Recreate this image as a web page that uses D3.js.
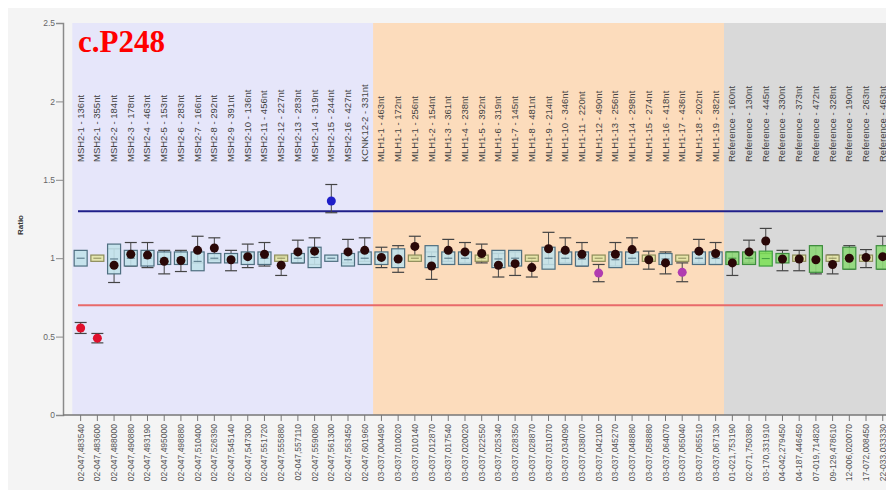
<!DOCTYPE html>
<html>
<head>
<meta charset="utf-8">
<script src="https://cdn.jsdelivr.net/npm/d3@7"></script>
<style>
  body { margin: 0; background: #fff; overflow: hidden; }
  text { font-family: "Liberation Sans", Arial, sans-serif; }
</style>
</head>
<body>
<div id="chart"></div>
<script>
// probe names (top labels)
var probes = [
  "MSH2-1 - 136nt", "MSH2-1 - 355nt", "MSH2-2 - 184nt", "MSH2-3 - 178nt", "MSH2-4 - 463nt",
  "MSH2-5 - 153nt", "MSH2-6 - 283nt", "MSH2-7 - 166nt", "MSH2-8 - 292nt", "MSH2-9 - 391nt",
  "MSH2-10 - 136nt", "MSH2-11 - 456nt", "MSH2-12 - 227nt", "MSH2-13 - 283nt", "MSH2-14 - 319nt",
  "MSH2-15 - 244nt", "MSH2-16 - 427nt", "KCNK12-2 - 331nt",
  "MLH1-1 - 463nt", "MLH1-1 - 172nt", "MLH1-1 - 256nt", "MLH1-2 - 154nt", "MLH1-3 - 361nt",
  "MLH1-4 - 238nt", "MLH1-5 - 392nt", "MLH1-6 - 319nt", "MLH1-7 - 145nt", "MLH1-8 - 481nt",
  "MLH1-9 - 214nt", "MLH1-10 - 346nt", "MLH1-11 - 220nt", "MLH1-12 - 490nt", "MLH1-13 - 256nt",
  "MLH1-14 - 298nt", "MLH1-15 - 274nt", "MLH1-16 - 418nt", "MLH1-17 - 436nt", "MLH1-18 - 202nt",
  "MLH1-19 - 382nt",
  "Reference - 160nt", "Reference - 130nt", "Reference - 445nt", "Reference - 330nt", "Reference - 373nt",
  "Reference - 472nt", "Reference - 328nt", "Reference - 190nt", "Reference - 263nt", "Reference - 463nt"
];

// chromosome positions (bottom labels)
var positions = [
  "02-047,483540", "02-047,483600", "02-047,488000", "02-047,490880", "02-047,493190",
  "02-047,495000", "02-047,498880", "02-047,510400", "02-047,526390", "02-047,545140",
  "02-047,547300", "02-047,551720", "02-047,555880", "02-047,557110", "02-047,559080",
  "02-047,561300", "02-047,563450", "02-047,601960",
  "03-037,004490", "03-037,010020", "03-037,010140", "03-037,012870", "03-037,017540",
  "03-037,020020", "03-037,022550", "03-037,025340", "03-037,028350", "03-037,028870",
  "03-037,031070", "03-037,034090", "03-037,038070", "03-037,042100", "03-037,045270",
  "03-037,048880", "03-037,058880", "03-037,064070", "03-037,065040", "03-037,065510",
  "03-037,067130",
  "01-021,753190", "02-071,750380", "03-170,331910", "04-042,279450", "04-187,446450",
  "07-019,714820", "09-129,478610", "12-006,020070", "17-072,008450", "22-033,033330"
];

// sample ratio and its confidence interval
var ratio = [0.555, 0.49, 0.955, 1.025, 1.02, 0.98, 0.985, 1.05, 1.065, 0.99, 1.01, 1.025, 0.955, 1.04, 1.045, 1.365, 1.04, 1.05,
  1.005, 0.995, 1.075, 0.95, 1.05, 1.04, 1.03, 0.955, 0.965, 0.94, 1.06, 1.05, 1.025, 0.905, 1.025, 1.055, 0.99, 0.97, 0.91, 1.045, 1.03,
  0.97, 1.04, 1.11, 0.995, 0.995, 0.99, 0.96, 1.0, 1.005, 1.01];
var ciLow = [0.52, 0.46, 0.845, 0.95, 0.94, 0.90, 0.915, 0.97, 0.99, 0.92, 0.94, 0.95, 0.89, 0.97, 0.96, 1.29, 0.97, 0.98,
  0.94, 0.91, 1.01, 0.865, 0.98, 0.97, 0.97, 0.88, 0.89, 0.88, 0.96, 0.97, 0.95, 0.85, 0.95, 0.98, 0.93, 0.90, 0.85, 0.97, 0.96,
  0.89, 0.97, 1.03, 0.92, 0.92, 0.90, 0.90, 0.93, 0.94, 0.93];
var ciHigh = [0.59, 0.52, 1.06, 1.10, 1.10, 1.05, 1.05, 1.14, 1.13, 1.05, 1.09, 1.10, 1.01, 1.115, 1.13, 1.47, 1.12, 1.13,
  1.07, 1.08, 1.14, 1.04, 1.12, 1.10, 1.09, 1.03, 1.04, 1.00, 1.165, 1.13, 1.10, 0.96, 1.10, 1.13, 1.045, 1.04, 0.97, 1.12, 1.10,
  1.04, 1.115, 1.19, 1.05, 1.05, 1.08, 1.02, 1.08, 1.055, 1.14];

// reference range boxes
var boxLow = [0.95, 0.98, 0.90, 0.95, 0.95, 0.96, 0.96, 0.92, 0.97, 0.97, 0.96, 0.96, 0.98, 0.97, 0.94, 0.98, 0.95, 0.96,
  0.96, 0.94, 0.98, 0.94, 0.96, 0.96, 0.98, 0.94, 0.95, 0.98, 0.93, 0.96, 0.95, 0.98, 0.94, 0.96, 0.98, 0.96, 0.98, 0.96, 0.96,
  0.96, 0.96, 0.95, 0.97, 0.98, 0.91, 0.98, 0.93, 0.98, 0.93];
var boxHigh = [1.05, 1.02, 1.09, 1.05, 1.05, 1.04, 1.04, 1.04, 1.03, 1.03, 1.04, 1.04, 1.02, 1.03, 1.07, 1.02, 1.03, 1.04,
  1.04, 1.06, 1.02, 1.08, 1.04, 1.04, 1.02, 1.05, 1.05, 1.02, 1.07, 1.04, 1.04, 1.02, 1.04, 1.04, 1.02, 1.03, 1.02, 1.04, 1.04,
  1.04, 1.04, 1.045, 1.03, 1.02, 1.08, 1.02, 1.07, 1.02, 1.08];
var boxKind = ["b","y","b","b","b","b","b","b","b","b","b","b","y","b","b","b","b","b",
  "b","b","y","b","b","b","y","b","b","y","b","b","b","y","b","b","y","b","y","b","b",
  "g","g","G","g","y","g","y","g","y","g"];

// regions: first index, last index, colour
var regionNames = ["MSH2", "MLH1", "Reference"];
var regionStart = [0, 18, 39];
var regionEnd = [17, 38, 48];
var regionColor = ["#e6e6fa", "#fcdcbc", "#d9d9d9"];

var yTicks = [0, 0.5, 1, 1.5, 2, 2.5];
var upperLimit = 1.3, lowerLimit = 0.7;

var width = 886, height = 490;
var svg = d3.select("#chart").append("svg")
  .attr("width", width).attr("height", height);

svg.append("rect").attr("x", 8).attr("y", 8).attr("width", width).attr("height", height)
  .attr("fill", "#f4f4f4");

var x = d3.scaleBand().domain(d3.range(probes.length)).range([72.3, 72.3 + probes.length * 16.71]);
var y = d3.scaleLinear().domain([0, 2.5]).range([415, 23]);
var cx = function(i) { return x(i) + x.bandwidth() / 2; };

// region backgrounds
svg.selectAll(".region").data(regionNames).enter().append("rect")
  .attr("x", function(d, k) { return x(regionStart[k]); })
  .attr("y", y(2.5))
  .attr("width", function(d, k) { return x(regionEnd[k]) + x.bandwidth() - x(regionStart[k]); })
  .attr("height", y(0) - y(2.5))
  .attr("fill", function(d, k) { return regionColor[k]; });

// threshold lines
svg.append("line").attr("x1", 78).attr("x2", 883)
  .attr("y1", y(upperLimit)).attr("y2", y(upperLimit))
  .attr("stroke", "#20208a").attr("stroke-width", 2);
svg.append("line").attr("x1", 78).attr("x2", 883)
  .attr("y1", y(lowerLimit)).attr("y2", y(lowerLimit))
  .attr("stroke", "#e86a6a").attr("stroke-width", 2);

// y axis
var yAxis = svg.append("g").attr("transform", "translate(63,0)")
  .call(d3.axisLeft(y).tickValues(yTicks).tickSize(7).tickFormat(d3.format("")));
yAxis.select(".domain").attr("stroke", "#8a8a8a").attr("stroke-width", 1.5);
yAxis.selectAll(".tick line").attr("stroke", "#8a8a8a");
yAxis.selectAll(".tick text").attr("fill", "#666").style("font-size", "8.5px").attr("x", -8);

svg.append("text").attr("transform", "translate(23,225) rotate(-90)")
  .attr("text-anchor", "middle").attr("fill", "#333")
  .style("font-size", "8px").style("font-weight", "bold").text("Ratio");

// x axis
var xAxis = svg.append("g").attr("transform", "translate(0,415)")
  .call(d3.axisBottom(x).tickSize(6).tickFormat(""));
xAxis.select(".domain").attr("stroke", "#777").attr("stroke-width", 1.5)
  .attr("d", "M63,0H" + width);
xAxis.selectAll(".tick line").attr("stroke", "#777");

svg.selectAll(".poslabel").data(positions).enter().append("text")
  .attr("transform", function(d, i) { return "translate(" + (cx(i) + 3) + ",424) rotate(-90)"; })
  .attr("text-anchor", "end").attr("fill", "#555").style("font-size", "8.5px")
  .text(function(d) { return d; });

svg.selectAll(".probelabel").data(probes).enter().append("text")
  .attr("transform", function(d, i) { return "translate(" + (cx(i) + 3) + ",162) rotate(-90)"; })
  .attr("text-anchor", "start").attr("fill", "#444").style("font-size", "9.5px")
  .text(function(d) { return d; });

// confidence interval bars
var ci = svg.selectAll(".ci").data(ratio).enter().append("g");
ci.append("line")
  .attr("x1", function(d, i) { return cx(i); }).attr("x2", function(d, i) { return cx(i); })
  .attr("y1", function(d, i) { return y(ciLow[i]); }).attr("y2", function(d, i) { return y(ciHigh[i]); })
  .attr("stroke", "#444").attr("stroke-width", 1);
ci.append("line")
  .attr("x1", function(d, i) { return cx(i) - 6; }).attr("x2", function(d, i) { return cx(i) + 6; })
  .attr("y1", function(d, i) { return y(ciLow[i]); }).attr("y2", function(d, i) { return y(ciLow[i]); })
  .attr("stroke", "#444").attr("stroke-width", 1.2);
ci.append("line")
  .attr("x1", function(d, i) { return cx(i) - 6; }).attr("x2", function(d, i) { return cx(i) + 6; })
  .attr("y1", function(d, i) { return y(ciHigh[i]); }).attr("y2", function(d, i) { return y(ciHigh[i]); })
  .attr("stroke", "#444").attr("stroke-width", 1.2);

// reference boxes
var fills = { b: "#c2e2ea", y: "#e4e6a6", g: "#8ed878", G: "#7ee05a" };
var strokes = { b: "#4f6f80", y: "#8c8c5a", g: "#3f8f3f", G: "#3f9f3f" };
var boxes = svg.selectAll(".box").data(boxLow).enter().append("g");
boxes.append("rect")
  .attr("x", function(d, i) { return cx(i) - 6.5; })
  .attr("y", function(d, i) { return y(boxHigh[i]); })
  .attr("width", 13)
  .attr("height", function(d, i) { return y(boxLow[i]) - y(boxHigh[i]); })
  .attr("fill", function(d, i) { return fills[boxKind[i]]; })
  .attr("fill-opacity", 0.9)
  .attr("stroke", function(d, i) { return strokes[boxKind[i]]; })
  .attr("stroke-width", 1.2);
boxes.append("line")
  .attr("x1", function(d, i) { return cx(i) - 4; }).attr("x2", function(d, i) { return cx(i) + 4; })
  .attr("y1", function(d, i) { return y((boxLow[i] + boxHigh[i]) / 2); })
  .attr("y2", function(d, i) { return y((boxLow[i] + boxHigh[i]) / 2); })
  .attr("stroke", function(d, i) { return strokes[boxKind[i]]; }).attr("stroke-width", 1);

// sample dots
function dotColor(v) {
  if (v < lowerLimit) return "#e0102c";
  if (v > upperLimit) return "#1f1fc8";
  if (v < 0.92) return "#b03cb0";
  return "#2a0808";
}
svg.selectAll(".dot").data(ratio).enter().append("circle")
  .attr("cx", function(d, i) { return cx(i); })
  .attr("cy", function(d) { return y(d); })
  .attr("r", 4.5)
  .attr("fill", function(d) { return dotColor(d); });

// title
svg.append("text").attr("x", 78).attr("y", 52)
  .attr("fill", "#ff0000").style("font-family", "'Liberation Serif', 'Times New Roman', serif")
  .style("font-weight", "bold").style("font-size", "31px").text("c.P248");
</script>
</body>
</html>
